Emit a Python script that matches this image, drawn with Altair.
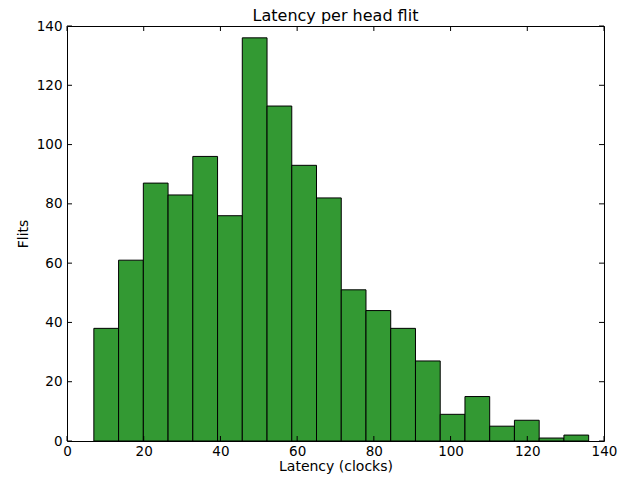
import altair as alt
import numpy as np
import pandas as pd

# Histogram data
counts = [38, 61, 87, 83, 96, 76, 136, 113, 93, 82, 51, 44, 38, 27, 9, 15, 5, 7, 1, 2]
latency_min = 7
latency_max = 136
x_ticks = [0, 20, 40, 60, 80, 100, 120, 140]
y_ticks = [0, 20, 40, 60, 80, 100, 120, 140]

edges = np.linspace(latency_min, latency_max, len(counts) + 1)
bars = pd.DataFrame({"x": edges[:-1], "end": edges[1:], "y": counts})
xt = pd.DataFrame({"x": x_ticks})
yt = pd.DataFrame({"y": y_ticks})

W, H = 537, 415
FONT = "DejaVu Sans"
xs = alt.Scale(domain=[0, 140], nice=False, zero=False)
ys = alt.Scale(domain=[0, 140], nice=False)
xaxis = alt.Axis(values=x_ticks, title="Latency (clocks)", format="d")
yaxis = alt.Axis(values=y_ticks, title="Flits", format="d")

bar = alt.Chart(bars).mark_rect(color="#339933", stroke="black", strokeWidth=1, opacity=1).encode(
    x=alt.X("x:Q", scale=xs, axis=xaxis),
    x2="end:Q",
    y=alt.Y("y:Q", scale=ys, axis=yaxis),
    y2=alt.datum(0),
)

tick_style = dict(color="black", strokeWidth=1)
bt = alt.Chart(xt).mark_rule(**tick_style).encode(
    x=alt.X("x:Q", scale=xs, axis=xaxis), y=alt.value(H), y2=alt.value(H - 5))
tt = alt.Chart(xt).mark_rule(**tick_style).encode(
    x=alt.X("x:Q", scale=xs, axis=xaxis), y=alt.value(0), y2=alt.value(5))
lt = alt.Chart(yt).mark_rule(**tick_style).encode(
    y=alt.Y("y:Q", scale=ys, axis=yaxis), x=alt.value(0), x2=alt.value(5))
rt = alt.Chart(yt).mark_rule(**tick_style).encode(
    y=alt.Y("y:Q", scale=ys, axis=yaxis), x=alt.value(W), x2=alt.value(W - 5))

chart = alt.layer(bar, bt, tt, lt, rt).properties(
    width=W, height=H,
    title=alt.TitleParams("Latency per head flit", font=FONT, fontSize=16, fontWeight="normal",
                          color="black", offset=2, frame="group", dy=7),
    autosize=alt.AutoSizeParams(type="none"),
    padding={"left": 59, "top": 18, "right": 17, "bottom": 34},
).configure_view(stroke="black", strokeWidth=1).configure_axis(
    grid=False, ticks=False, domain=False, labelFlush=False,
    labelFont=FONT, labelFontSize=13.5, labelColor="black",
    titleFont=FONT, titleFontSize=14, titleFontWeight="normal", titleColor="black",
).configure_axisX(labelPadding=3, titlePadding=2).configure_axisY(
    labelPadding=5, titlePadding=6)

chart.save("out.html", embed_options={"renderer": "svg", "actions": False})
